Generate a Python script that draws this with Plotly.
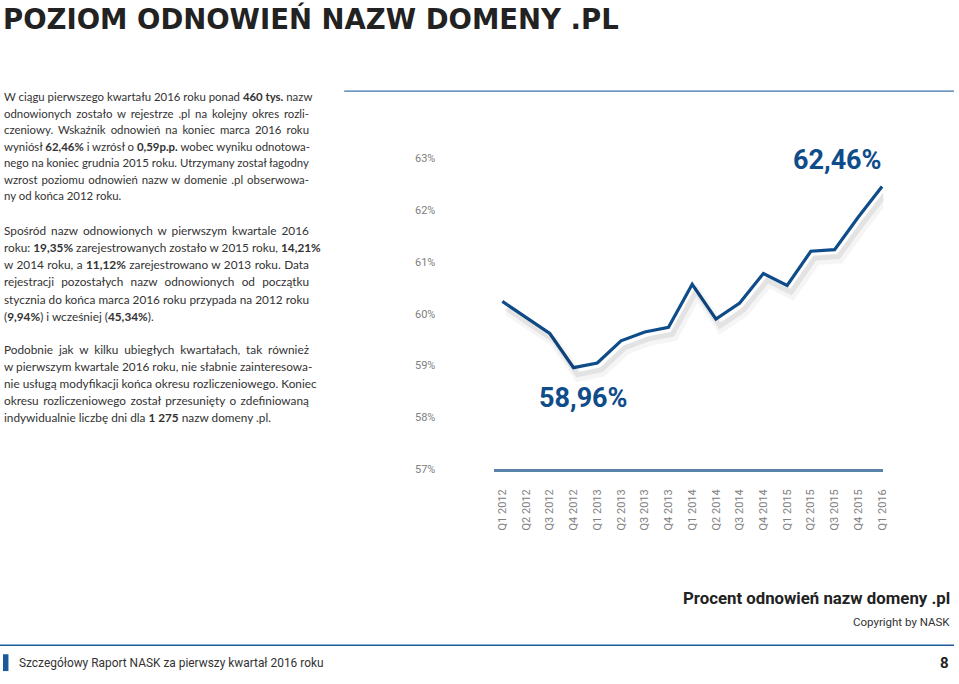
import json
import plotly.graph_objects as go

W, H = 959, 684

quarters = ["Q1 2012", "Q2 2012", "Q3 2012", "Q4 2012",
            "Q1 2013", "Q2 2013", "Q3 2013", "Q4 2013",
            "Q1 2014", "Q2 2014", "Q3 2014", "Q4 2014",
            "Q1 2015", "Q2 2015", "Q3 2015", "Q4 2015",
            "Q1 2016"]
renewal = [60.24, 59.93, 59.62, 58.96,
           59.05, 59.48, 59.65, 59.74,
           60.57, 59.90, 60.21, 60.78,
           60.55, 61.21, 61.24, 61.87,
           62.46]
y_ticks = [57, 58, 59, 60, 61, 62, 63]
y_tick_labels = ["57%", "58%", "59%", "60%", "61%", "62%", "63%"]

title = "POZIOM ODNOWIEŃ NAZW DOMENY .PL"
para1 = [
    "W ciągu pierwszego kwartału 2016 roku ponad <b>460 tys.</b> nazw",
    "odnowionych zostało w rejestrze .pl na kolejny okres rozli-",
    "czeniowy. Wskaźnik odnowień na koniec marca 2016 roku",
    "wyniósł <b>62,46%</b> i wzrósł o <b>0,59p.p.</b> wobec wyniku odnotowa-",
    "nego na koniec grudnia 2015 roku. Utrzymany został łagodny",
    "wzrost poziomu odnowień nazw w domenie .pl obserwowa-",
    "ny od końca 2012 roku.",
]
para2 = [
    "Spośród nazw odnowionych w pierwszym kwartale 2016",
    "roku: <b>19,35%</b> zarejestrowanych zostało w 2015 roku, <b>14,21%</b>",
    "w 2014 roku, a <b>11,12%</b> zarejestrowano w 2013 roku. Data",
    "rejestracji pozostałych nazw odnowionych od początku",
    "stycznia do końca marca 2016 roku przypada na 2012 roku",
    "(<b>9,94%</b>) i wcześniej (<b>45,34%</b>).",
]
para3 = [
    "Podobnie jak w kilku ubiegłych kwartałach, tak również",
    "w pierwszym kwartale 2016 roku, nie słabnie zainteresowa-",
    "nie usługą modyfikacji końca okresu rozliczeniowego. Koniec",
    "okresu rozliczeniowego został przesunięty o zdefiniowaną",
    "indywidualnie liczbę dni dla <b>1 275</b> nazw domeny .pl.",
]
chart_title = "Procent odnowień nazw domeny .pl"
copyright_text = "Copyright by NASK"
footer_text = "Szczegółowy Raport NASK za pierwszy kwartał 2016 roku"
page_no = "8"

BLUE = "#0f4c8a"
GREY = "#808080"
TEXT = "#333333"


def px(x):
    return x / W


def py(y):
    return 1 - y / H


# plot geometry (pixels)
left, right = 497, 888
top, bottom = 150, 474
x_range = [-0.335, 16.055]
unit_x = (right - left) / (x_range[1] - x_range[0])
y_lo = 57.0
unit_y = 52.3
y_range = [y_lo, y_lo + (bottom - top) / unit_y]

fig = go.Figure()

# soft shadow layers (same data on shifted overlay axes)
shadows = [("x2", "y2", 10, "rgba(0,0,0,0.04)", 5, 9),
           ("x3", "y3", 5, "rgba(0,0,0,0.07)", 4, 7)]
for xa, ya, wdt, col, dx, dy in shadows:
    fig.add_trace(go.Scatter(x=list(range(len(quarters))), y=renewal, mode="lines",
                             line=dict(color=col, width=wdt), xaxis=xa, yaxis=ya,
                             hoverinfo="skip", showlegend=False))

fig.add_trace(go.Scatter(x=list(range(len(quarters))), y=renewal, mode="lines",
                         line=dict(color=BLUE, width=3.2), showlegend=False,
                         hovertemplate="%{text}: %{y:.2f}%<extra></extra>",
                         text=quarters))

layout = dict(
    width=W, height=H,
    margin=dict(l=0, r=0, t=0, b=0),
    paper_bgcolor="white", plot_bgcolor="white",
    showlegend=False,
    font=dict(family="Roboto", color=TEXT),
    xaxis=dict(domain=[px(left), px(right)], range=x_range,
               tickmode="array", tickvals=list(range(len(quarters))),
               ticktext=quarters, tickangle=-90,
               tickfont=dict(family="Roboto", size=11, color=GREY),
               showgrid=False, zeroline=False, showline=True,
               linecolor="#5b82ab", linewidth=2.5, ticks="",
               ticklabelstandoff=13, anchor="y", fixedrange=True),
    yaxis=dict(domain=[py(bottom), py(top)], range=y_range,
               tickmode="array", tickvals=y_ticks, ticktext=y_tick_labels,
               tickfont=dict(family="Roboto", size=11, color=GREY),
               showgrid=False, zeroline=False, showline=False, ticks="",
               ticklabelstandoff=58, anchor="x", fixedrange=True),
)
for i, (xa, ya, wdt, col, dx, dy) in enumerate(shadows):
    n = i + 2
    layout[f"xaxis{n}"] = dict(domain=[px(left), px(right)],
                               range=[x_range[0] - dx / unit_x, x_range[1] - dx / unit_x],
                               visible=False, overlaying="x", anchor=f"y{n}")
    layout[f"yaxis{n}"] = dict(domain=[py(bottom), py(top)],
                               range=[y_range[0] + dy / unit_y, y_range[1] + dy / unit_y],
                               visible=False, overlaying="y", anchor=f"x{n}")
fig.update_layout(**layout)

ann = []
justify = []  # annotation indices of justified body lines


def text_at(x, y, s, size, color=TEXT, bold=False, anchor="left", family="Lato"):
    ann.append(dict(x=px(x), y=py(y), xref="paper", yref="paper",
                    text=f"<b>{s}</b>" if bold else s, showarrow=False,
                    xanchor=anchor, yanchor="middle", align=anchor,
                    font=dict(family=family, size=size, color=color)))


text_at(1, 19, title, 27.5, color="#222222", bold=True, family="DejaVu Sans")
for para, y0, step, size in ((para1, 97.5, 16.75, 11.4),
                             (para2, 233, 17.3, 11.8),
                             (para3, 353, 17.3, 11.8)):
    for i, line in enumerate(para):
        if i < len(para) - 1:
            justify.append(len(ann))
        text_at(2, y0 + step * i, line, size)

text_at(957, 604, chart_title, 16.8, color="#222222", bold=True, anchor="right", family="Roboto")
text_at(957, 628, copyright_text, 11.5, color="#333333", anchor="right", family="Roboto")
text_at(17, 670, footer_text, 11.9, color="#333333", family="Roboto")
text_at(956, 670, page_no, 15, color="#222222", bold=True, anchor="right", family="Roboto")

# value callouts tied to the data points
ann.append(dict(x=len(quarters) - 1, y=renewal[-1], xref="x", yref="y",
                text="<b>62,46%</b>", showarrow=False, xanchor="center",
                yanchor="middle", xshift=-45, yshift=27,
                font=dict(family="Roboto", size=27, color=BLUE)))
i_min = renewal.index(min(renewal))
ann.append(dict(x=i_min, y=renewal[i_min], xref="x", yref="y",
                text="<b>58,96%</b>", showarrow=False, xanchor="center",
                yanchor="middle", xshift=10, yshift=-30,
                font=dict(family="Roboto", size=27, color=BLUE)))
fig.update_layout(annotations=ann)

shapes = [
    dict(type="line", xref="paper", yref="paper", x0=px(346), x1=px(959),
         y0=py(92), y1=py(92), line=dict(color="#3d73ad", width=1.3)),
    dict(type="line", xref="paper", yref="paper", x0=0, x1=1,
         y0=py(652), y1=py(652), line=dict(color="#1f5c99", width=1.5)),
    dict(type="rect", xref="paper", yref="paper", x0=px(3), x1=px(8.5),
         y0=py(678), y1=py(661), fillcolor="#1a5a9c", line=dict(width=0)),
]
fig.update_layout(shapes=shapes)

JUSTIFY_RIGHT = 309
js = """
document.body.style.margin='0';
(function(){
  var idx = %s, right = %d;
  var gd = document.getElementById('{plot_id}');
  idx.forEach(function(i){
    var g = gd.querySelector('g.annotation[data-index="'+i+'"]');
    if(!g) return;
    var t = g.querySelector('text.annotation-text');
    if(!t) return;
    var n = (t.textContent.match(/ /g)||[]).length;
    if(!n) return;
    var b = t.getBoundingClientRect();
    var extra = right - b.right;
    if(extra > 0) t.style.wordSpacing = (extra/n)+'px';
  });
})();
""" % (json.dumps(justify), JUSTIFY_RIGHT)

fig.write_html("out.html", config={"displayModeBar": False}, post_script=js)
